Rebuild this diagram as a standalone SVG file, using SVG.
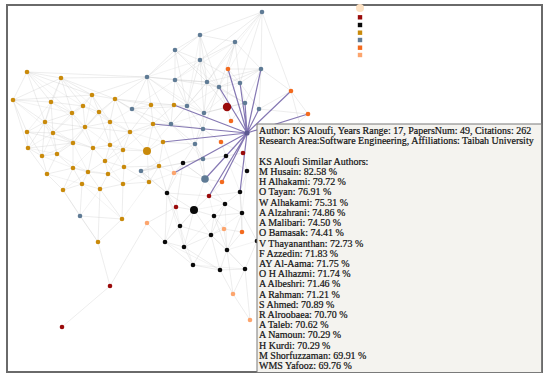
<svg xmlns="http://www.w3.org/2000/svg" width="550" height="378" viewBox="0 0 550 378">
<style>
.e{fill:none;stroke:#c8c8c8;stroke-width:0.6;stroke-opacity:0.55}
.e2{fill:none;stroke:#cccccc;stroke-width:0.6;stroke-opacity:0.4}
.p{fill:none;stroke:#7060a6;stroke-width:1.2;stroke-opacity:0.85}
.sl{fill:#5f7b95}
.gd{fill:#c98a0b}
.dr{fill:#9a0b0b}
.bk{fill:#0a0a0a}
.or{fill:#f36a1e}
.lo{fill:#fca56e}
.t{font-family:"Liberation Serif","Times New Roman",serif;font-size:10.5px;fill:#111111;stroke:#111111;stroke-width:0.22}
</style>
<rect x="0" y="0" width="550" height="378" fill="#ffffff"/>
<rect x="7" y="5" width="535" height="367" fill="#ffffff" stroke="#6a6a6a" stroke-width="2"/>
<g id="connectors">
<path class="e" d="M262 12L235 42M262 12L261 69M262 12L200 35M262 12L200 60M262 12L240 83M200 35L175 50M200 35L200 60M200 35L235 42M200 35L207 82M200 35L147 77M200 35L219 87M235 42L200 60M235 42L261 69M235 42L207 82M235 42L219 87M235 42L240 83M175 50L200 60M175 50L147 77M175 50L175 80M175 50L207 82M175 50L187 106M200 60L175 80M200 60L207 82M200 60L240 83M200 60L187 106M200 60L204 113M261 69L240 83M261 69L219 87M261 69L245 103M261 69L259 109M261 69L207 82M147 77L175 80M147 77L132 109M147 77L187 106M147 77L171 124M147 77L207 82M147 77L115 99M175 80L207 82M175 80L187 106M175 80L204 113M175 80L171 124M175 80L219 87M207 82L219 87M207 82L187 106M207 82L204 113M207 82L245 103M240 83L219 87M240 83L245 103M240 83L259 109M219 87L204 113M219 87L245 103M219 87L203 129M187 106L204 113M187 106L171 124M187 106L203 129M187 106L132 109M204 113L203 129M204 113L245 103M204 113L195 144M132 109L171 124M132 109L151 105M132 109L115 99M171 124L203 129M171 124L195 144M171 124L153 124M203 129L195 144M203 129L203 159M195 144L203 159M195 144L141 171M195 144L205 179M203 159L205 179M203 159L141 171M141 171L149 182M141 171L159 166"/>
<path class="e" d="M27 72L61 78M27 72L13 100M27 72L51 102M27 72L92 95M27 72L45 122M61 78L51 102M61 78L92 95M61 78L83 106M61 78L72 113M61 78L115 99M13 100L51 102M13 100L45 122M13 100L27 132M13 100L28 148M13 100L92 95M51 102L83 106M51 102L72 113M51 102L45 122M51 102L53 133M92 95L115 99M92 95L83 106M92 95L99 112M92 95L110 122M115 99L99 112M115 99L151 105M115 99L110 122M115 99L130 132M115 99L174 105M83 106L72 113M83 106L99 112M83 106L85 127M72 113L45 122M72 113L53 133M72 113L85 127M72 113L73 143M99 112L85 127M99 112L110 122M99 112L110 145M151 105L174 105M151 105L130 132M151 105L153 124M151 105L147 77M174 105L153 124M174 105L187 106M45 122L27 132M45 122L53 133M45 122L28 148M45 122L42 156M27 132L53 133M27 132L28 148M27 132L42 156M53 133L85 127M53 133L73 143M53 133L57 154M85 127L110 122M85 127L73 143M85 127L93 148M110 122L130 132M110 122L110 145M110 122L123 150M130 132L153 124M130 132L123 150M130 132L147 151M130 132L110 145M153 124L163 142M153 124L147 151M28 148L42 156M28 148L47 174M28 148L73 143M73 143L93 148M73 143L57 154M73 143L73 168M93 148L110 145M93 148L105 161M93 148L88 172M110 145L123 150M110 145L105 161M163 142L147 151M163 142L159 166M163 142L195 144M123 150L124 167M123 150L147 151M123 150L105 161M42 156L57 154M42 156L47 174M57 154L73 168M57 154L47 174M105 161L124 167M105 161L108 174M105 161L88 172M124 167L159 166M124 167L123 184M124 167L149 182M159 166L149 182M159 166L147 151M73 168L88 172M73 168L82 184M73 168L47 174M73 168L63 190M88 172L108 174M88 172L82 184M88 172L100 189M108 174L123 184M108 174L100 189M47 174L63 190M149 182L123 184M82 184L63 190M82 184L100 189M82 184L80 216M123 184L100 189M123 184L122 219M63 190L80 216M100 189L98 242M100 189L122 219M80 216L122 219M80 216L98 242M122 219L98 242M27 72L147 77M61 78L147 77M92 95L147 77M13 100L61 78M45 122L85 127M27 132L73 143M53 133L93 148M85 127L130 132"/>
<path class="e2" d="M27 72L83 106M27 72L72 113M61 78L45 122M61 78L99 112M13 100L53 133M13 100L72 113M51 102L85 127M51 102L27 132M92 95L72 113M92 95L85 127M115 99L85 127M115 99L153 124M83 106L110 122M83 106L53 133M72 113L93 148M99 112L130 132M99 112L73 143M45 122L73 143M45 122L57 154M53 133L28 148M53 133L42 156M85 127L110 145M85 127L57 154M110 122L93 148M110 122L153 124M130 132L163 142M130 132L105 161M153 124L123 150M28 148L57 154M73 143L88 172M73 143L42 156M93 148L73 168M93 148L123 150M110 145L124 167M110 145L147 151M123 150L108 174M147 151L124 167M147 151L149 182M42 156L73 168M57 154L88 172M105 161L123 184M124 167L108 174M159 166L123 184M73 168L108 174M88 172L63 190M47 174L82 184M149 182L122 219M82 184L122 219M63 190L98 242M100 189L80 216M163 142L174 173M159 166L174 173M149 182L174 173M147 151L171 124M151 105L171 124M130 132L171 124M110 122L132 109M115 99L132 109M262 12L219 87M262 12L207 82M200 35L187 106M235 42L175 80M175 50L219 87M200 60L219 87M200 60L147 77M147 77L204 113M175 80L132 109M207 82L171 124M240 83L204 113M219 87L187 106M187 106L195 144M204 113L171 124M171 124L203 159M132 109L153 124M167 193L184 247M194 210L165 242M194 210L225 204M225 204L227 250M214 216L184 247M242 213L211 235M180 226L193 265M211 235L245 269M165 242L220 270M193 265L245 269M227 250L257 241M209 196L214 216M176 207L180 226M176 207L165 242M226 156L240 192M247 171L242 213M203 159L183 163M141 171L183 163M203 159L226 156M205 179L194 210M205 179L225 204M205 179L183 163M174 173L205 179M141 171L167 193"/>
<path class="e" d="M167 193L194 210M167 193L176 207M167 193L209 196M167 193L180 226M167 193L165 242M167 193L183 163M194 210L209 196M194 210L214 216M194 210L180 226M194 210L211 235M194 210L184 247M194 210L176 207M225 204L214 216M225 204L242 213M225 204L209 196M225 204L240 192M225 204L211 235M214 216L211 235M214 216L242 213M214 216L224 229M214 216L227 250M242 213L227 250M242 213L257 241M242 213L242 232M242 213L240 192M180 226L165 242M180 226L184 247M180 226L211 235M211 235L184 247M211 235L227 250M211 235L224 229M211 235L193 265M211 235L220 270M165 242L184 247M165 242L193 265M184 247L193 265M184 247L220 270M227 250L220 270M227 250L245 269M227 250L242 232M257 241L245 269M193 265L220 270M220 270L245 269M245 269L233 294M220 270L233 294M227 250L233 294M233 294L250 320M245 269L250 320M240 192L247 171M240 192L242 232M240 192L209 196M247 171L243 153M247 171L226 156M226 156L243 153M226 156L221 142M226 156L183 163M183 163L174 173M183 163L203 159M209 196L222 182M222 182L205 179M176 207L147 223M147 223L110 286M110 286L62 327M147 223L165 242M110 286L98 242M176 207L183 163M224 229L227 250M224 229L242 232M183 163L205 179M174 173L167 193M167 193L141 171M167 193L159 166M183 163L195 144M228 69L235 42M228 69L261 69M228 69L240 83M228 69L227 107M291 91L261 69M291 91L259 109M291 91L308 114M308 114L259 109M262 12L291 91M231 121L227 107M231 121L245 103M221 142L243 153M221 142L203 129M227 107L219 87M227 107L204 113M227 107L245 103M227 107L207 82M308 114L290 130M291 91L300 125"/>
<path class="p" d="M247 133L174 105M247 133L153 124M247 133L163 142M247 133L174 173M247 133L205 179M247 133L222 182M247 133L209 196M247 133L240 192M247 133L228 69M247 133L261 69M247 133L240 83M247 133L219 87M247 133L245 103M247 133L259 109M247 133L291 91M247 133L308 114"/>
</g>
<g id="nodes-slate">
<circle class="sl" cx="262" cy="12" r="2.3"/><circle class="sl" cx="200" cy="35" r="2.3"/><circle class="sl" cx="235" cy="42" r="2.3"/><circle class="sl" cx="175" cy="50" r="2.3"/><circle class="sl" cx="200" cy="60" r="2.3"/><circle class="sl" cx="261" cy="69" r="2.3"/><circle class="sl" cx="147" cy="77" r="2.3"/><circle class="sl" cx="175" cy="80" r="2.3"/><circle class="sl" cx="207" cy="82" r="2.3"/><circle class="sl" cx="240" cy="83" r="2.3"/><circle class="sl" cx="219" cy="87" r="2.3"/><circle class="sl" cx="187" cy="106" r="2.3"/><circle class="sl" cx="204" cy="113" r="2.3"/><circle class="sl" cx="245" cy="103" r="2.3"/><circle class="sl" cx="259" cy="109" r="2.3"/><circle class="sl" cx="132" cy="109" r="2.3"/><circle class="sl" cx="171" cy="124" r="2.3"/><circle class="sl" cx="203" cy="129" r="2.3"/><circle class="sl" cx="195" cy="144" r="2.3"/><circle class="sl" cx="203" cy="159" r="2.3"/><circle class="sl" cx="141" cy="171" r="2.3"/><circle class="sl" cx="80" cy="216" r="2.3"/><circle class="sl" cx="205" cy="179" r="3.8"/>
</g>
<g id="nodes-gold">
<circle class="gd" cx="27" cy="72" r="2.3"/><circle class="gd" cx="61" cy="78" r="2.3"/><circle class="gd" cx="13" cy="100" r="2.3"/><circle class="gd" cx="51" cy="102" r="2.3"/><circle class="gd" cx="92" cy="95" r="2.3"/><circle class="gd" cx="115" cy="99" r="2.3"/><circle class="gd" cx="83" cy="106" r="2.3"/><circle class="gd" cx="72" cy="113" r="2.3"/><circle class="gd" cx="99" cy="112" r="2.3"/><circle class="gd" cx="151" cy="105" r="2.3"/><circle class="gd" cx="174" cy="105" r="2.3"/><circle class="gd" cx="45" cy="122" r="2.3"/><circle class="gd" cx="27" cy="132" r="2.3"/><circle class="gd" cx="53" cy="133" r="2.3"/><circle class="gd" cx="85" cy="127" r="2.3"/><circle class="gd" cx="110" cy="122" r="2.3"/><circle class="gd" cx="130" cy="132" r="2.3"/><circle class="gd" cx="153" cy="124" r="2.3"/><circle class="gd" cx="28" cy="148" r="2.3"/><circle class="gd" cx="73" cy="143" r="2.3"/><circle class="gd" cx="93" cy="148" r="2.3"/><circle class="gd" cx="110" cy="145" r="2.3"/><circle class="gd" cx="163" cy="142" r="2.3"/><circle class="gd" cx="123" cy="150" r="2.3"/><circle class="gd" cx="42" cy="156" r="2.3"/><circle class="gd" cx="57" cy="154" r="2.3"/><circle class="gd" cx="105" cy="161" r="2.3"/><circle class="gd" cx="124" cy="167" r="2.3"/><circle class="gd" cx="159" cy="166" r="2.3"/><circle class="gd" cx="73" cy="168" r="2.3"/><circle class="gd" cx="88" cy="172" r="2.3"/><circle class="gd" cx="108" cy="174" r="2.3"/><circle class="gd" cx="47" cy="174" r="2.3"/><circle class="gd" cx="149" cy="182" r="2.3"/><circle class="gd" cx="82" cy="184" r="2.3"/><circle class="gd" cx="123" cy="184" r="2.3"/><circle class="gd" cx="63" cy="190" r="2.3"/><circle class="gd" cx="100" cy="189" r="2.3"/><circle class="gd" cx="122" cy="219" r="2.3"/><circle class="gd" cx="98" cy="242" r="2.3"/><circle class="gd" cx="147" cy="151" r="4"/>
</g>
<g id="nodes-black">
<circle class="bk" cx="226" cy="156" r="2.3"/><circle class="bk" cx="183" cy="163" r="2.3"/><circle class="bk" cx="247" cy="171" r="2.3"/><circle class="bk" cx="167" cy="193" r="2.3"/><circle class="bk" cx="240" cy="192" r="2.3"/><circle class="bk" cx="194" cy="210" r="4"/><circle class="bk" cx="225" cy="204" r="2.3"/><circle class="bk" cx="214" cy="216" r="2.3"/><circle class="bk" cx="242" cy="213" r="2.3"/><circle class="bk" cx="180" cy="226" r="2.3"/><circle class="bk" cx="211" cy="235" r="2.3"/><circle class="bk" cx="165" cy="242" r="2.3"/><circle class="bk" cx="184" cy="247" r="2.3"/><circle class="bk" cx="227" cy="250" r="2.3"/><circle class="bk" cx="257" cy="241" r="2.3"/><circle class="bk" cx="193" cy="265" r="2.3"/><circle class="bk" cx="220" cy="270" r="2.3"/><circle class="bk" cx="245" cy="269" r="2.3"/>
</g>
<g id="nodes-darkred">
<circle class="dr" cx="227" cy="107" r="4.2"/><circle class="dr" cx="243" cy="153" r="2.3"/><circle class="dr" cx="209" cy="196" r="2.3"/><circle class="dr" cx="176" cy="207" r="2.3"/><circle class="dr" cx="110" cy="286" r="2.3"/><circle class="dr" cx="62" cy="327" r="2.3"/>
</g>
<g id="nodes-orange">
<circle class="or" cx="228" cy="69" r="2.3"/><circle class="or" cx="291" cy="91" r="2.3"/><circle class="or" cx="308" cy="114" r="2.3"/><circle class="or" cx="231" cy="121" r="2.3"/><circle class="or" cx="221" cy="142" r="2.3"/><circle class="or" cx="222" cy="182" r="2.3"/><circle class="or" cx="242" cy="232" r="2.3"/>
</g>
<g id="nodes-lightorange">
<circle class="lo" cx="174" cy="173" r="2.3"/><circle class="lo" cx="147" cy="223" r="2.3"/><circle class="lo" cx="224" cy="229" r="2.3"/><circle class="lo" cx="233" cy="294" r="2.3"/><circle class="lo" cx="250" cy="320" r="2.3"/>
</g>
<g id="hub">
<circle cx="247" cy="133" r="2.6" fill="#5c5890"/>
</g>
<g id="legend">
<circle cx="360" cy="8" r="4" fill="#fde1c2"/>
<rect x="357.8" y="15.1" width="4.4" height="4.4" fill="#9a0b0b"/>
<rect x="357.8" y="22.8" width="4.4" height="4.4" fill="#0a0a0a"/>
<rect x="357.8" y="30.5" width="4.4" height="4.4" fill="#c98a0b"/>
<rect x="357.8" y="37.8" width="4.4" height="4.4" fill="#5f7b95"/>
<rect x="357.8" y="45.5" width="4.4" height="4.4" fill="#f36a1e"/>
<rect x="357.8" y="52.8" width="4.4" height="4.4" fill="#fca56e"/>
</g>
<g id="tooltip">
<rect x="257" y="124" width="284.5" height="248.5" fill="#f4f3ef" stroke="#7a7a7a" stroke-width="1"/>
<g transform="matrix(0.95 0 0 1 12.95 0)">
<text class="t" x="259" y="134">Author: KS Aloufi, Years Range: 17, PapersNum: 49, Citations: 262</text>
<text class="t" x="259" y="144.3">Research Area:Software Engineering, Affiliations: Taibah University</text>
<text class="t" x="259" y="164.8">KS Aloufi Similar Authors:</text>
<text class="t" x="259" y="175">M Husain: 82.58 %</text>
<text class="t" x="259" y="185.2">H Alhakami: 79.72 %</text>
<text class="t" x="259" y="195.5">O Tayan: 76.91 %</text>
<text class="t" x="259" y="205.7">W Alhakami: 75.31 %</text>
<text class="t" x="259" y="215.9">A Alzahrani: 74.86 %</text>
<text class="t" x="259" y="226.1">A Malibari: 74.50 %</text>
<text class="t" x="259" y="236.3">O Bamasak: 74.41 %</text>
<text class="t" x="259" y="246.6">V Thayananthan: 72.73 %</text>
<text class="t" x="259" y="256.8">F Azzedin: 71.83 %</text>
<text class="t" x="259" y="267">AY Al-Aama: 71.75 %</text>
<text class="t" x="259" y="277.2">O H Alhazmi: 71.74 %</text>
<text class="t" x="259" y="287.4">A Albeshri: 71.46 %</text>
<text class="t" x="259" y="297.7">A Rahman: 71.21 %</text>
<text class="t" x="259" y="307.9">S Ahmed: 70.89 %</text>
<text class="t" x="259" y="318.1">R Alroobaea: 70.70 %</text>
<text class="t" x="259" y="328.3">A Taleb: 70.62 %</text>
<text class="t" x="259" y="338.5">A Namoun: 70.29 %</text>
<text class="t" x="259" y="348.8">H Kurdi: 70.29 %</text>
<text class="t" x="259" y="359">M Shorfuzzaman: 69.91 %</text>
<text class="t" x="259" y="369.2">WMS Yafooz: 69.76 %</text>
</g>
</g>
</svg>
